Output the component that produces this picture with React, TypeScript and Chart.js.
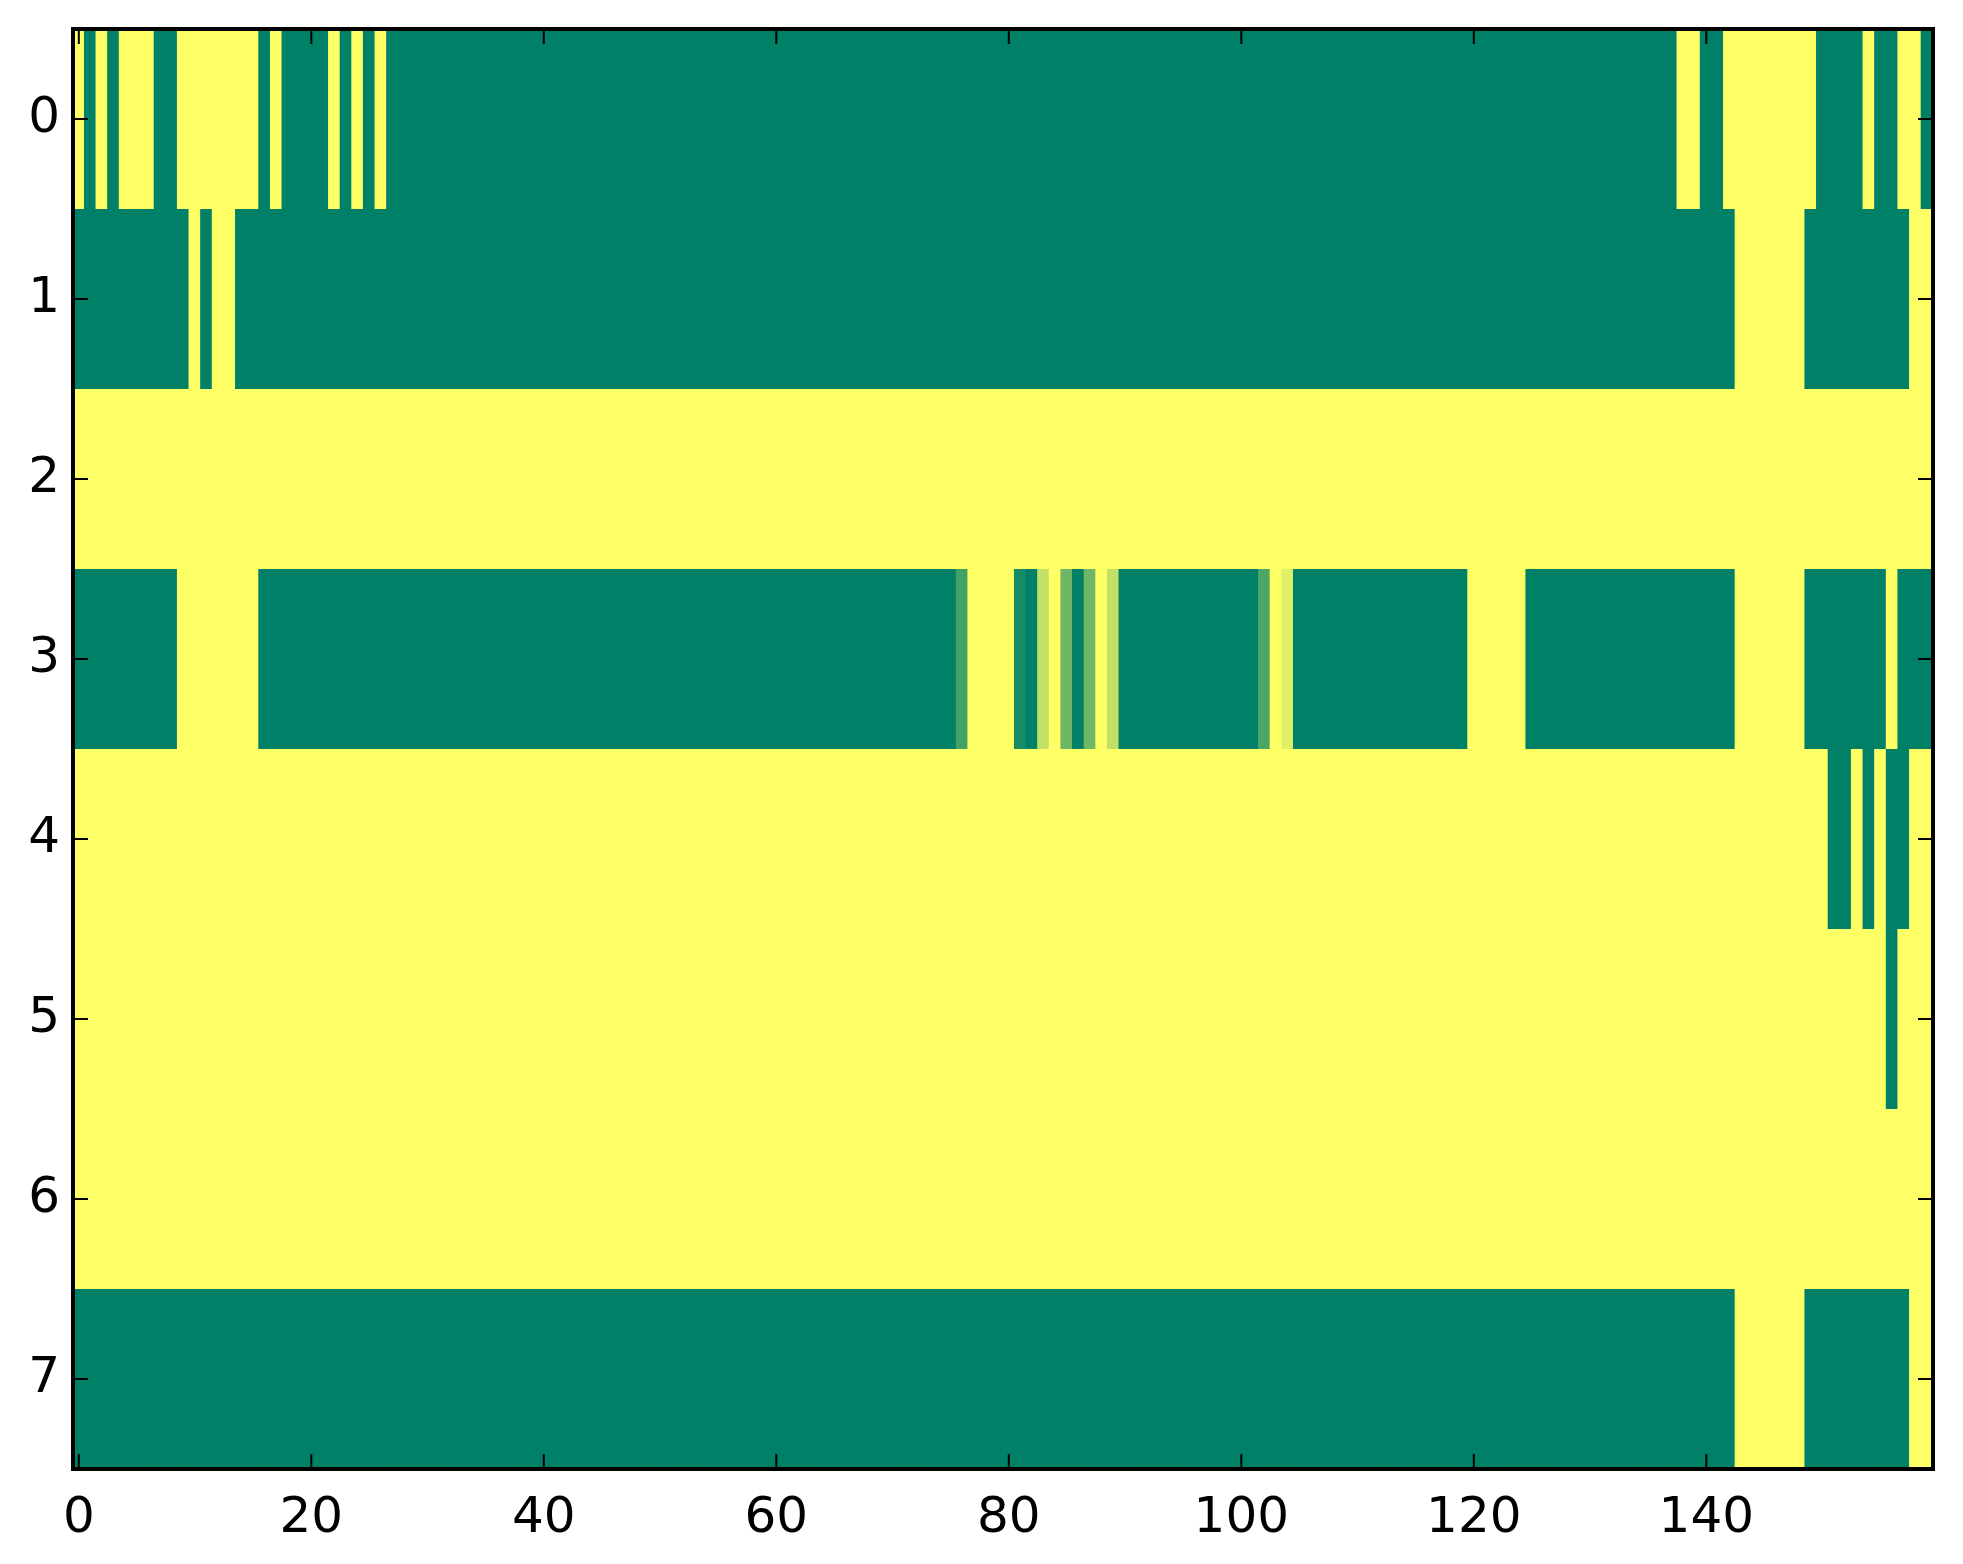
import { useEffect, useRef } from "react"
import { Chart, registerables } from "chart.js"

Chart.register(...registerables)

// cell values per row (0 = green, 1 = yellow), columns 0..159
const row0 = [
  1, 0, 1, 0, 1, 1, 1, 0, 0, 1, 1, 1, 1, 1, 1, 1, 0, 1, 0, 0,
  0, 0, 1, 0, 1, 0, 1, 0, 0, 0, 0, 0, 0, 0, 0, 0, 0, 0, 0, 0,
  0, 0, 0, 0, 0, 0, 0, 0, 0, 0, 0, 0, 0, 0, 0, 0, 0, 0, 0, 0,
  0, 0, 0, 0, 0, 0, 0, 0, 0, 0, 0, 0, 0, 0, 0, 0, 0, 0, 0, 0,
  0, 0, 0, 0, 0, 0, 0, 0, 0, 0, 0, 0, 0, 0, 0, 0, 0, 0, 0, 0,
  0, 0, 0, 0, 0, 0, 0, 0, 0, 0, 0, 0, 0, 0, 0, 0, 0, 0, 0, 0,
  0, 0, 0, 0, 0, 0, 0, 0, 0, 0, 0, 0, 0, 0, 0, 0, 0, 0, 1, 1,
  0, 0, 1, 1, 1, 1, 1, 1, 1, 1, 0, 0, 0, 0, 1, 0, 0, 1, 1, 0,
]
const row1 = [
  0, 0, 0, 0, 0, 0, 0, 0, 0, 0, 1, 0, 1, 1, 0, 0, 0, 0, 0, 0,
  0, 0, 0, 0, 0, 0, 0, 0, 0, 0, 0, 0, 0, 0, 0, 0, 0, 0, 0, 0,
  0, 0, 0, 0, 0, 0, 0, 0, 0, 0, 0, 0, 0, 0, 0, 0, 0, 0, 0, 0,
  0, 0, 0, 0, 0, 0, 0, 0, 0, 0, 0, 0, 0, 0, 0, 0, 0, 0, 0, 0,
  0, 0, 0, 0, 0, 0, 0, 0, 0, 0, 0, 0, 0, 0, 0, 0, 0, 0, 0, 0,
  0, 0, 0, 0, 0, 0, 0, 0, 0, 0, 0, 0, 0, 0, 0, 0, 0, 0, 0, 0,
  0, 0, 0, 0, 0, 0, 0, 0, 0, 0, 0, 0, 0, 0, 0, 0, 0, 0, 0, 0,
  0, 0, 0, 1, 1, 1, 1, 1, 1, 0, 0, 0, 0, 0, 0, 0, 0, 0, 1, 1,
]
const row2 = [
  1, 1, 1, 1, 1, 1, 1, 1, 1, 1, 1, 1, 1, 1, 1, 1, 1, 1, 1, 1,
  1, 1, 1, 1, 1, 1, 1, 1, 1, 1, 1, 1, 1, 1, 1, 1, 1, 1, 1, 1,
  1, 1, 1, 1, 1, 1, 1, 1, 1, 1, 1, 1, 1, 1, 1, 1, 1, 1, 1, 1,
  1, 1, 1, 1, 1, 1, 1, 1, 1, 1, 1, 1, 1, 1, 1, 1, 1, 1, 1, 1,
  1, 1, 1, 1, 1, 1, 1, 1, 1, 1, 1, 1, 1, 1, 1, 1, 1, 1, 1, 1,
  1, 1, 1, 1, 1, 1, 1, 1, 1, 1, 1, 1, 1, 1, 1, 1, 1, 1, 1, 1,
  1, 1, 1, 1, 1, 1, 1, 1, 1, 1, 1, 1, 1, 1, 1, 1, 1, 1, 1, 1,
  1, 1, 1, 1, 1, 1, 1, 1, 1, 1, 1, 1, 1, 1, 1, 1, 1, 1, 1, 1,
]
const row3 = [
  0, 0, 0, 0, 0, 0, 0, 0, 0, 1, 1, 1, 1, 1, 1, 1, 0, 0, 0, 0,
  0, 0, 0, 0, 0, 0, 0, 0, 0, 0, 0, 0, 0, 0, 0, 0, 0, 0, 0, 0,
  0, 0, 0, 0, 0, 0, 0, 0, 0, 0, 0, 0, 0, 0, 0, 0, 0, 0, 0, 0,
  0, 0, 0, 0, 0, 0, 0, 0, 0, 0, 0, 0, 0, 0, 0, 0, 0.26, 1, 1, 1,
  1, 0.09, 0, 0.76, 1, 0.43, 0, 0.43, 1, 0.76, 0, 0, 0, 0, 0, 0, 0, 0, 0, 0,
  0, 0, 0.3, 1, 0.88, 0, 0, 0, 0, 0, 0, 0, 0, 0, 0, 0, 0, 0, 0, 0,
  1, 1, 1, 1, 1, 0, 0, 0, 0, 0, 0, 0, 0, 0, 0, 0, 0, 0, 0, 0,
  0, 0, 0, 1, 1, 1, 1, 1, 1, 0, 0, 0, 0, 0, 0, 0, 1, 0, 0, 0,
]
const row4 = [
  1, 1, 1, 1, 1, 1, 1, 1, 1, 1, 1, 1, 1, 1, 1, 1, 1, 1, 1, 1,
  1, 1, 1, 1, 1, 1, 1, 1, 1, 1, 1, 1, 1, 1, 1, 1, 1, 1, 1, 1,
  1, 1, 1, 1, 1, 1, 1, 1, 1, 1, 1, 1, 1, 1, 1, 1, 1, 1, 1, 1,
  1, 1, 1, 1, 1, 1, 1, 1, 1, 1, 1, 1, 1, 1, 1, 1, 1, 1, 1, 1,
  1, 1, 1, 1, 1, 1, 1, 1, 1, 1, 1, 1, 1, 1, 1, 1, 1, 1, 1, 1,
  1, 1, 1, 1, 1, 1, 1, 1, 1, 1, 1, 1, 1, 1, 1, 1, 1, 1, 1, 1,
  1, 1, 1, 1, 1, 1, 1, 1, 1, 1, 1, 1, 1, 1, 1, 1, 1, 1, 1, 1,
  1, 1, 1, 1, 1, 1, 1, 1, 1, 1, 1, 0, 0, 1, 0, 1, 0, 0, 1, 1,
]
const row5 = [
  1, 1, 1, 1, 1, 1, 1, 1, 1, 1, 1, 1, 1, 1, 1, 1, 1, 1, 1, 1,
  1, 1, 1, 1, 1, 1, 1, 1, 1, 1, 1, 1, 1, 1, 1, 1, 1, 1, 1, 1,
  1, 1, 1, 1, 1, 1, 1, 1, 1, 1, 1, 1, 1, 1, 1, 1, 1, 1, 1, 1,
  1, 1, 1, 1, 1, 1, 1, 1, 1, 1, 1, 1, 1, 1, 1, 1, 1, 1, 1, 1,
  1, 1, 1, 1, 1, 1, 1, 1, 1, 1, 1, 1, 1, 1, 1, 1, 1, 1, 1, 1,
  1, 1, 1, 1, 1, 1, 1, 1, 1, 1, 1, 1, 1, 1, 1, 1, 1, 1, 1, 1,
  1, 1, 1, 1, 1, 1, 1, 1, 1, 1, 1, 1, 1, 1, 1, 1, 1, 1, 1, 1,
  1, 1, 1, 1, 1, 1, 1, 1, 1, 1, 1, 1, 1, 1, 1, 1, 0, 1, 1, 1,
]
const row6 = [
  1, 1, 1, 1, 1, 1, 1, 1, 1, 1, 1, 1, 1, 1, 1, 1, 1, 1, 1, 1,
  1, 1, 1, 1, 1, 1, 1, 1, 1, 1, 1, 1, 1, 1, 1, 1, 1, 1, 1, 1,
  1, 1, 1, 1, 1, 1, 1, 1, 1, 1, 1, 1, 1, 1, 1, 1, 1, 1, 1, 1,
  1, 1, 1, 1, 1, 1, 1, 1, 1, 1, 1, 1, 1, 1, 1, 1, 1, 1, 1, 1,
  1, 1, 1, 1, 1, 1, 1, 1, 1, 1, 1, 1, 1, 1, 1, 1, 1, 1, 1, 1,
  1, 1, 1, 1, 1, 1, 1, 1, 1, 1, 1, 1, 1, 1, 1, 1, 1, 1, 1, 1,
  1, 1, 1, 1, 1, 1, 1, 1, 1, 1, 1, 1, 1, 1, 1, 1, 1, 1, 1, 1,
  1, 1, 1, 1, 1, 1, 1, 1, 1, 1, 1, 1, 1, 1, 1, 1, 1, 1, 1, 1,
]
const row7 = [
  0, 0, 0, 0, 0, 0, 0, 0, 0, 0, 0, 0, 0, 0, 0, 0, 0, 0, 0, 0,
  0, 0, 0, 0, 0, 0, 0, 0, 0, 0, 0, 0, 0, 0, 0, 0, 0, 0, 0, 0,
  0, 0, 0, 0, 0, 0, 0, 0, 0, 0, 0, 0, 0, 0, 0, 0, 0, 0, 0, 0,
  0, 0, 0, 0, 0, 0, 0, 0, 0, 0, 0, 0, 0, 0, 0, 0, 0, 0, 0, 0,
  0, 0, 0, 0, 0, 0, 0, 0, 0, 0, 0, 0, 0, 0, 0, 0, 0, 0, 0, 0,
  0, 0, 0, 0, 0, 0, 0, 0, 0, 0, 0, 0, 0, 0, 0, 0, 0, 0, 0, 0,
  0, 0, 0, 0, 0, 0, 0, 0, 0, 0, 0, 0, 0, 0, 0, 0, 0, 0, 0, 0,
  0, 0, 0, 1, 1, 1, 1, 1, 1, 0, 0, 0, 0, 0, 0, 0, 0, 0, 1, 1,
]

const rows = [row0, row1, row2, row3, row4, row5, row6, row7]
const xTicks = [0, 20, 40, 60, 80, 100, 120, 140]
const yTicks = [0, 1, 2, 3, 4, 5, 6, 7]

// matplotlib "summer" colormap
const summer = (v: number) =>
  `rgb(${Math.round(255 * v)}, ${Math.round(127.5 + 127.5 * v)}, 102)`

// black frame with inward ticks on all four sides
const framePlugin = {
  id: "frame",
  afterDatasetsDraw(chart: any) {
    const { ctx, chartArea: a, scales } = chart
    ctx.save()
    ctx.strokeStyle = "#000"
    ctx.lineWidth = 2
    ctx.beginPath()
    xTicks.forEach((v) => {
      const px = scales.x.getPixelForValue(v)
      ctx.moveTo(px, a.bottom)
      ctx.lineTo(px, a.bottom - 15)
      ctx.moveTo(px, a.top)
      ctx.lineTo(px, a.top + 15)
    })
    yTicks.forEach((v) => {
      const py = scales.y.getPixelForValue(v)
      ctx.moveTo(a.left, py)
      ctx.lineTo(a.left + 15, py)
      ctx.moveTo(a.right, py)
      ctx.lineTo(a.right - 15, py)
    })
    ctx.stroke()
    ctx.lineWidth = 4
    ctx.strokeRect(a.left, a.top, a.right - a.left, a.bottom - a.top)
    ctx.restore()
  },
}

export default function App() {
  const chartRef = useRef<HTMLCanvasElement>(null)
  const chartInstance = useRef<Chart | null>(null)

  useEffect(() => {
    if (!chartRef.current) return
    if (chartInstance.current) chartInstance.current.destroy()
    const ctx = chartRef.current.getContext("2d")
    if (!ctx) return

    const datasets = rows.map((values, r) => ({
      data: values.map((_, c) => ({ x: c, y: [r - 0.5, r + 0.5] })),
      backgroundColor: values.map(summer),
      borderWidth: 0,
      barPercentage: 1.12,
      categoryPercentage: 1,
      grouped: false,
    }))

    const tickFont = { family: "DejaVu Sans", size: 50 }

    chartInstance.current = new Chart(ctx, {
      type: "bar",
      data: { datasets: datasets as any },
      options: {
        animation: false,
        responsive: false,
        devicePixelRatio: 1,
        layout: { padding: { top: 29, right: 30, left: 0, bottom: 0 } },
        plugins: { legend: { display: false }, tooltip: { enabled: false } },
        scales: {
          x: {
            type: "linear",
            min: -0.5,
            max: 159.5,
            offset: false,
            grid: { display: false, drawTicks: false },
            border: { display: false },
            afterFit: (scale: any) => {
              scale.height = 95
              scale.paddingLeft = 0
              scale.paddingRight = 0
            },
            afterBuildTicks: (scale: any) => {
              scale.ticks = xTicks.map((v) => ({ value: v }))
            },
            ticks: { color: "#000", font: tickFont, padding: 20, maxRotation: 0, autoSkip: false },
          },
          y: {
            type: "linear",
            min: -0.5,
            max: 7.5,
            reverse: true,
            grid: { display: false, drawTicks: false },
            border: { display: false },
            afterFit: (scale: any) => {
              scale.width = 73
              scale.paddingTop = 0
              scale.paddingBottom = 0
            },
            afterBuildTicks: (scale: any) => {
              scale.ticks = yTicks.map((v) => ({ value: v }))
            },
            ticks: { color: "#000", font: tickFont, padding: 13, autoSkip: false },
          },
        },
      },
      plugins: [framePlugin],
    })

    return () => {
      if (chartInstance.current) {
        chartInstance.current.destroy()
        chartInstance.current = null
      }
    }
  }, [])

  return (
    <div style={{ position: "absolute", left: 0, top: 0, width: 1963, height: 1564, background: "#fff" }}>
      <canvas ref={chartRef} width={1963} height={1564} style={{ display: "block" }} />
    </div>
  )
}
